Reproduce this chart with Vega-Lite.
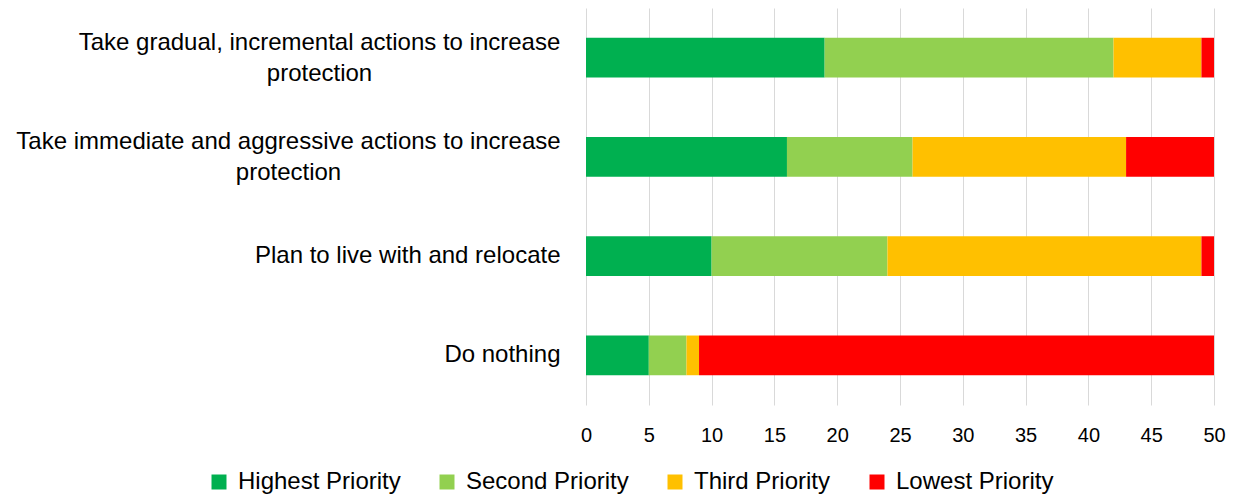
{
  "$schema": "https://vega.github.io/schema/vega-lite/v6.json",
  "autosize": {"type": "none"},
  "width": 628,
  "height": 397,
  "padding": {"left": 586, "top": 8, "right": 21, "bottom": 90},
  "background": "white",
  "data": {
    "values": [
      {"option": "Take gradual, incremental actions to increase protection", "priority": "Highest Priority", "order": 1, "count": 19},
      {"option": "Take gradual, incremental actions to increase protection", "priority": "Second Priority", "order": 2, "count": 23},
      {"option": "Take gradual, incremental actions to increase protection", "priority": "Third Priority", "order": 3, "count": 7},
      {"option": "Take gradual, incremental actions to increase protection", "priority": "Lowest Priority", "order": 4, "count": 1},
      {"option": "Take immediate and aggressive actions to increase protection", "priority": "Highest Priority", "order": 1, "count": 16},
      {"option": "Take immediate and aggressive actions to increase protection", "priority": "Second Priority", "order": 2, "count": 10},
      {"option": "Take immediate and aggressive actions to increase protection", "priority": "Third Priority", "order": 3, "count": 17},
      {"option": "Take immediate and aggressive actions to increase protection", "priority": "Lowest Priority", "order": 4, "count": 7},
      {"option": "Plan to live with and relocate", "priority": "Highest Priority", "order": 1, "count": 10},
      {"option": "Plan to live with and relocate", "priority": "Second Priority", "order": 2, "count": 14},
      {"option": "Plan to live with and relocate", "priority": "Third Priority", "order": 3, "count": 25},
      {"option": "Plan to live with and relocate", "priority": "Lowest Priority", "order": 4, "count": 1},
      {"option": "Do nothing", "priority": "Highest Priority", "order": 1, "count": 5},
      {"option": "Do nothing", "priority": "Second Priority", "order": 2, "count": 3},
      {"option": "Do nothing", "priority": "Third Priority", "order": 3, "count": 1},
      {"option": "Do nothing", "priority": "Lowest Priority", "order": 4, "count": 41}
    ]
  },
  "mark": {"type": "bar"},
  "encoding": {
    "y": {
      "field": "option",
      "type": "nominal",
      "sort": null,
      "scale": {"paddingInner": 0.6, "paddingOuter": 0.3},
      "axis": {
        "title": null,
        "domain": false,
        "ticks": false,
        "labelFont": "Liberation Sans",
        "labelFontSize": 24,
        "labelColor": "#000000",
        "labelLimit": 800,
        "labelLineHeight": 31,
        "labelExpr": "indexof(datum.label, ' protection') > 0 ? [substring(datum.label, 0, indexof(datum.label, ' protection')), 'protection'] : datum.label",
        "labelAlign": {"expr": "indexof(datum.label, ' protection') > 0 ? 'center' : 'right'"},
        "labelOffset": {"expr": "indexof(datum.label, ' protection') > 0 ? -15 : 0"},
        "labelPadding": {"expr": "indexof(datum.label, 'gradual') > 0 ? 267 : (indexof(datum.label, 'immediate') > 0 ? 298 : 26)"}
      }
    },
    "x": {
      "field": "count",
      "type": "quantitative",
      "stack": "zero",
      "scale": {"domain": [0, 50], "nice": false},
      "axis": {
        "title": null,
        "values": [0, 5, 10, 15, 20, 25, 30, 35, 40, 45, 50],
        "domain": false,
        "ticks": false,
        "grid": true,
        "gridColor": "#D9D9D9",
        "gridWidth": 1,
        "labelFont": "Liberation Sans",
        "labelFontSize": 20,
        "labelColor": "#000000",
        "labelPadding": 20,
        "labelFlush": false
      }
    },
    "color": {
      "field": "priority",
      "type": "nominal",
      "scale": {
        "domain": ["Highest Priority", "Second Priority", "Third Priority", "Lowest Priority"],
        "range": ["#00B050", "#92D050", "#FFC000", "#FF0000"]
      },
      "legend": {
        "title": null,
        "orient": "none",
        "direction": "horizontal",
        "legendX": -379,
        "legendY": 462,
        "symbolType": "square",
        "symbolSize": 225,
        "symbolStrokeWidth": 0,
        "labelFont": "Liberation Sans",
        "labelFontSize": 24,
        "labelColor": "#000000",
        "labelLimit": 400,
        "columnPadding": 34,
        "labelOffset": 7
      }
    },
    "order": {"field": "order", "type": "quantitative"}
  },
  "config": {"view": {"stroke": null}}
}
